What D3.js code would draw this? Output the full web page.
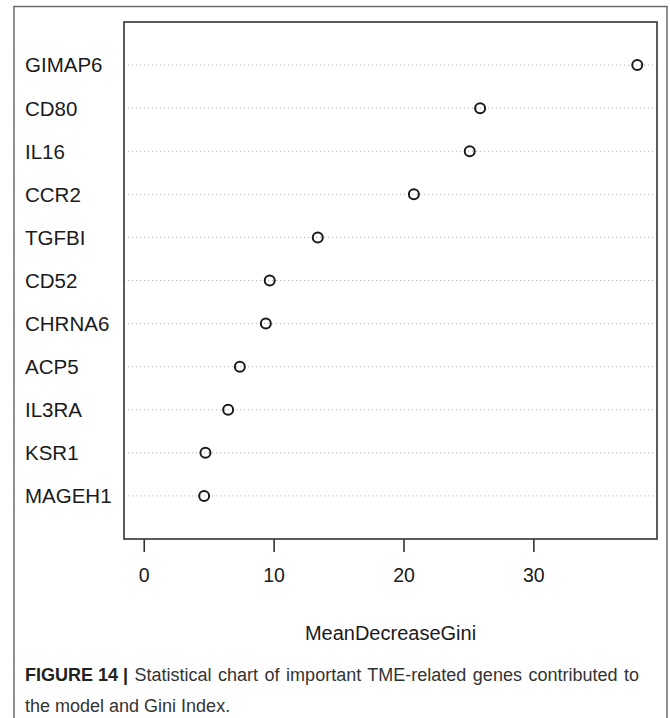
<!DOCTYPE html>
<html>
<head>
<meta charset="utf-8">
<script src="https://cdn.jsdelivr.net/npm/d3@7"></script>
<style>
  html, body { margin: 0; padding: 0; background: #fff; }
  svg { display: block; }
</style>
</head>
<body>
<script>
// Data (top to bottom as displayed)
const genes = ["GIMAP6","CD80","IL16","CCR2","TGFBI","CD52","CHRNA6","ACP5","IL3RA","KSR1","MAGEH1"];
const giniValues = [38.0, 25.9, 25.1, 20.8, 13.4, 9.7, 9.4, 7.4, 6.5, 4.75, 4.65];
const xTicks = [0, 10, 20, 30];
const xTitle = "MeanDecreaseGini";
const captionBold = "FIGURE 14 |";
const captionLine1 = " Statistical chart of important TME-related genes contributed to";
const captionLine2 = "the model and Gini Index.";

const W = 670, H = 718;
const box = { left: 124, right: 657, top: 22, bottom: 539 };
const font = "'Liberation Sans', Arial, Helvetica, sans-serif";

const svg = d3.select("body").append("svg")
  .attr("width", W).attr("height", H);

// Outer frame
svg.append("rect")
  .attr("x", 14).attr("y", 6.5)
  .attr("width", 653).attr("height", 740)
  .attr("fill", "none").attr("stroke", "#6b6b6b").attr("stroke-width", 1.5);

const maxV = d3.max(giniValues);
const x = d3.scaleLinear()
  .domain([-0.04 * maxV, maxV * 1.04])
  .range([box.left, box.right]);

const y = d3.scaleLinear()
  .domain([0, genes.length + 1])
  .range([box.bottom, box.top]);

const rowY = (i) => y(genes.length - i);

// Dotted guide lines
svg.append("g").selectAll("line")
  .data(genes)
  .join("line")
  .attr("x1", box.left).attr("x2", box.right)
  .attr("y1", (d, i) => rowY(i)).attr("y2", (d, i) => rowY(i))
  .attr("stroke", "#b5b5b5").attr("stroke-width", 1)
  .attr("stroke-dasharray", "1.2,2.8");

// Points
svg.append("g").selectAll("circle")
  .data(giniValues)
  .join("circle")
  .attr("cx", d => x(d))
  .attr("cy", (d, i) => rowY(i))
  .attr("r", 5)
  .attr("fill", "none")
  .attr("stroke", "#1a1a1a")
  .attr("stroke-width", 2);

// Plot box
svg.append("rect")
  .attr("x", box.left).attr("y", box.top)
  .attr("width", box.right - box.left).attr("height", box.bottom - box.top)
  .attr("fill", "none").attr("stroke", "#333").attr("stroke-width", 1.6);

// Row labels
svg.append("g").selectAll("text")
  .data(genes)
  .join("text")
  .attr("x", 25)
  .attr("y", (d, i) => rowY(i))
  .attr("dy", "0.36em")
  .attr("font-family", font)
  .attr("font-size", 20.5)
  .attr("fill", "#1a1a1a")
  .text(d => d);

// X axis
const xAxis = d3.axisBottom(x).tickValues(xTicks).tickSize(13).tickPadding(16)
  .tickFormat(d3.format("d"));
const gx = svg.append("g")
  .attr("transform", `translate(0,${box.bottom})`)
  .call(xAxis);
gx.select(".domain").remove();
gx.selectAll(".tick line").attr("stroke", "#333").attr("stroke-width", 1.6);
gx.selectAll(".tick text")
  .attr("font-family", font).attr("font-size", 19.5).attr("fill", "#1a1a1a");

// X title
svg.append("text")
  .attr("x", (box.left + box.right) / 2)
  .attr("y", 633).attr("dy", "0.36em")
  .attr("text-anchor", "middle")
  .attr("font-family", font).attr("font-size", 20).attr("fill", "#1a1a1a")
  .text(xTitle);

// Caption
const cap1 = svg.append("text")
  .attr("x", 25).attr("y", 681)
  .attr("font-family", font).attr("font-size", 18).attr("fill", "#333");
cap1.append("tspan").attr("font-weight", "bold").attr("fill", "#222").text(captionBold);
cap1.append("tspan").attr("word-spacing", "1.5px").text(captionLine1);

svg.append("text")
  .attr("x", 25).attr("y", 712)
  .attr("font-family", font).attr("font-size", 18).attr("fill", "#333")
  .text(captionLine2);
</script>
</body>
</html>
